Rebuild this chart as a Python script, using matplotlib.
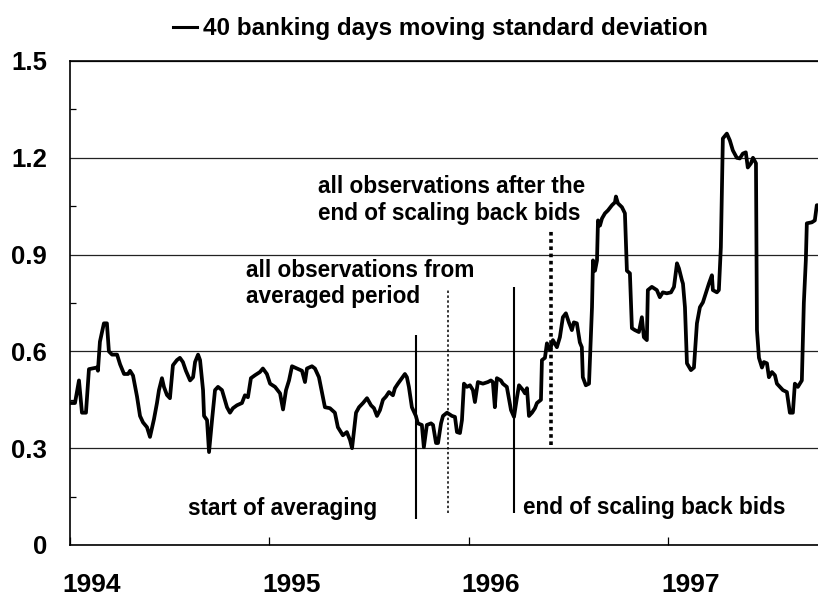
import numpy as np
import matplotlib
matplotlib.use("Agg")
import matplotlib.pyplot as plt

plt.rcParams['font.family'] = ['Liberation Sans', 'DejaVu Sans']
plt.rcParams['font.weight'] = 'bold'

# decimal years and the 40 banking days moving standard deviation
dates = np.array([
    1994.000, 1994.025, 1994.045, 1994.060, 1994.080, 1994.095, 1994.135, 1994.140,
    1994.150, 1994.170, 1994.185, 1994.195, 1994.211, 1994.236, 1994.251, 1994.271,
    1994.291, 1994.301, 1994.316, 1994.336, 1994.351, 1994.366, 1994.386, 1994.401,
    1994.421, 1994.436, 1994.446, 1994.461, 1994.471, 1994.486, 1994.501, 1994.516,
    1994.536, 1994.551, 1994.566, 1994.581, 1994.602, 1994.617, 1994.627, 1994.642,
    1994.652, 1994.667, 1994.672, 1994.687, 1994.697, 1994.712, 1994.727, 1994.742,
    1994.762, 1994.787, 1994.802, 1994.817, 1994.837, 1994.862, 1994.877, 1994.892,
    1994.907, 1994.927, 1994.952, 1994.967, 1994.987,
    1995.003, 1995.028, 1995.053, 1995.068, 1995.083, 1995.098, 1995.113, 1995.138,
    1995.163, 1995.178, 1995.188, 1995.213, 1995.228, 1995.248, 1995.268, 1995.278,
    1995.303, 1995.328, 1995.343, 1995.368, 1995.388, 1995.404, 1995.414, 1995.434,
    1995.449, 1995.469, 1995.489, 1995.509, 1995.524, 1995.539, 1995.554, 1995.569,
    1995.584, 1995.599, 1995.619, 1995.629, 1995.644, 1995.664, 1995.679, 1995.689,
    1995.699, 1995.714, 1995.734, 1995.744, 1995.764, 1995.774, 1995.789, 1995.810,
    1995.820, 1995.835, 1995.845, 1995.860, 1995.870, 1995.890, 1995.915, 1995.930,
    1995.940, 1995.955, 1995.965, 1995.975, 1995.990,
    1996.005, 1996.020, 1996.030, 1996.045, 1996.070, 1996.095, 1996.110, 1996.120,
    1996.130, 1996.140, 1996.160, 1996.170, 1996.190, 1996.211, 1996.226, 1996.241,
    1996.251, 1996.271, 1996.281, 1996.291, 1996.301, 1996.316, 1996.331, 1996.341,
    1996.361, 1996.366, 1996.381, 1996.391, 1996.406, 1996.421, 1996.441, 1996.456,
    1996.471, 1996.486, 1996.501, 1996.516, 1996.526, 1996.541, 1996.556, 1996.566,
    1996.571, 1996.586, 1996.602, 1996.617, 1996.622, 1996.632, 1996.642, 1996.647,
    1996.657, 1996.667, 1996.682, 1996.697, 1996.717, 1996.732, 1996.737, 1996.747,
    1996.767, 1996.782, 1996.792, 1996.807, 1996.817, 1996.832, 1996.852, 1996.867,
    1996.877, 1996.892, 1996.897, 1996.917, 1996.942, 1996.957, 1996.972, 1996.992,
    1997.013, 1997.028, 1997.043, 1997.053, 1997.068, 1997.073, 1997.083, 1997.093,
    1997.113, 1997.128, 1997.143, 1997.158, 1997.173, 1997.193, 1997.203, 1997.218,
    1997.223, 1997.243, 1997.253, 1997.263, 1997.273, 1997.293, 1997.308, 1997.323,
    1997.343, 1997.358, 1997.373, 1997.388, 1997.398, 1997.414, 1997.424, 1997.439,
    1997.444, 1997.454, 1997.469, 1997.479, 1997.494, 1997.504, 1997.519, 1997.534,
    1997.544, 1997.559, 1997.574, 1997.594, 1997.609, 1997.624, 1997.634, 1997.649,
    1997.669, 1997.679, 1997.689, 1997.694, 1997.719, 1997.734, 1997.744, 1997.749,
])
std40 = np.array([
    0.44, 0.44, 0.51, 0.41, 0.41, 0.545, 0.55, 0.54,
    0.63, 0.687, 0.687, 0.60, 0.59, 0.59, 0.56, 0.53,
    0.53, 0.54, 0.525, 0.46, 0.40, 0.38, 0.365, 0.335,
    0.39, 0.44, 0.48, 0.517, 0.49, 0.465, 0.455, 0.557,
    0.573, 0.58, 0.567, 0.54, 0.51, 0.52, 0.567, 0.59,
    0.573, 0.48, 0.40, 0.387, 0.288, 0.387, 0.48, 0.49,
    0.48, 0.427, 0.41, 0.424, 0.433, 0.44, 0.464, 0.458,
    0.517, 0.526, 0.536, 0.547, 0.53,
    0.50, 0.49, 0.47, 0.42, 0.48, 0.51, 0.554, 0.547,
    0.54, 0.505, 0.547, 0.554, 0.547, 0.52, 0.458, 0.427,
    0.424, 0.41, 0.365, 0.34, 0.35, 0.325, 0.30, 0.41,
    0.427, 0.44, 0.455, 0.433, 0.424, 0.40, 0.418, 0.45,
    0.46, 0.474, 0.464, 0.486, 0.50, 0.517, 0.53, 0.52,
    0.49, 0.427, 0.40, 0.377, 0.372, 0.303, 0.372, 0.377,
    0.372, 0.316, 0.316, 0.377, 0.40, 0.41, 0.40, 0.397,
    0.35, 0.347, 0.387, 0.50, 0.49,
    0.495, 0.48, 0.443, 0.505, 0.50, 0.505, 0.51, 0.505,
    0.427, 0.517, 0.51, 0.50, 0.49, 0.418, 0.397, 0.458,
    0.495, 0.48, 0.47, 0.486, 0.40, 0.41, 0.424, 0.44,
    0.45, 0.573, 0.58, 0.625, 0.604, 0.635, 0.613, 0.644,
    0.706, 0.718, 0.69, 0.666, 0.69, 0.687, 0.628, 0.613,
    0.52, 0.495, 0.50, 0.737, 0.882, 0.85, 0.882, 1.006,
    0.99, 1.012, 1.028, 1.037, 1.053, 1.062, 1.08, 1.059,
    1.047, 1.028, 0.85, 0.842, 0.672, 0.666, 0.66, 0.706,
    0.644, 0.635, 0.79, 0.80, 0.79, 0.768, 0.783, 0.78,
    0.783, 0.80, 0.873, 0.857, 0.82, 0.81, 0.737, 0.563,
    0.542, 0.55, 0.687, 0.737, 0.752, 0.79, 0.81, 0.836,
    0.79, 0.783, 0.79, 0.923, 1.26, 1.275, 1.254, 1.223,
    1.20, 1.198, 1.213, 1.217, 1.17, 1.183, 1.20, 1.183,
    0.666, 0.58, 0.55, 0.567, 0.563, 0.52, 0.536, 0.526,
    0.50, 0.49, 0.48, 0.474, 0.41, 0.41, 0.50, 0.49,
    0.51, 0.75, 0.882, 0.997, 1.0, 1.006, 1.053, 1.053,
])

years = [1994, 1995, 1996, 1997]
ylevels = [0, 0.3, 0.6, 0.9, 1.2, 1.5]
ylabels = ['0', '0.3', '0.6', '0.9', '1.2', '1.5']

# event markers: date, bottom, top
start_avg = (1995.733, 0.08, 0.65)
avg_period = (1995.897, 0.10, 0.79)
end_scaling = (1996.228, 0.10, 0.80)
after_end = (1996.411, 0.31, 0.975)

fig = plt.figure(figsize=(8.18, 5.99), dpi=100)
ax = fig.add_axes([70 / 818, 54 / 599, 748 / 818, 484 / 599])

line, = ax.plot(dates, std40, color='black', lw=2.7, solid_joinstyle='round')

ax.vlines(start_avg[0], start_avg[1], start_avg[2], color='black', lw=1.5)
ax.vlines(end_scaling[0], end_scaling[1], end_scaling[2], color='black', lw=1.5)
ax.plot([avg_period[0]] * 2, avg_period[1:], color='black', lw=1.1,
        linestyle=(0, (1.6, 1.6)))
ax.plot([after_end[0]] * 2, after_end[1:], color='black', lw=2.6,
        linestyle=(0, (1.0, 1.0)), dash_capstyle='butt')

ax.set_xlim(1994, 1997.75)
ax.set_ylim(0, 1.5)

# y axis: gridlines at major levels, small inward ticks in between
ax.set_yticks(ylevels)
ax.set_yticklabels(ylabels)
ax.set_yticks(np.arange(0.15, 1.5, 0.3), minor=True)
ax.yaxis.grid(True, which='major', color='#222222', lw=0.9)
ax.tick_params(axis='y', which='major', length=0, pad=16.5, labelsize=18.5)
ax.tick_params(axis='y', which='minor', direction='in', length=4.5, width=0.9)

# x axis: ticks at year starts, labels shifted a bit to the right
ax.set_xticks(years)
ax.set_xticklabels([''] * len(years))
ax.set_xticks([y + 0.11 for y in years], minor=True)
ax.set_xticklabels([str(y) for y in years], minor=True)
ax.tick_params(axis='x', which='major', direction='in', length=5.8, width=0.9)
ax.tick_params(axis='x', which='minor', length=0, pad=20, labelsize=19)

for side in ['left', 'top', 'bottom']:
    ax.spines[side].set_linewidth(1.2)
ax.spines['right'].set_visible(False)

fs = 16.3
ax.text(1995.243, 1.090, 'all observations after the', fontsize=fs, va='baseline')
ax.text(1995.243, 1.006, 'end of scaling back bids', fontsize=fs, va='baseline')
ax.text(1994.882, 0.832, 'all observations from', fontsize=fs, va='baseline')
ax.text(1994.882, 0.750, 'averaged period', fontsize=fs, va='baseline')
ax.text(1994.591, 0.093, 'start of averaging', fontsize=fs, va='baseline')
ax.text(1996.271, 0.097, 'end of scaling back bids', fontsize=fs, va='baseline')

leg = ax.legend([line], ['40 banking days moving standard deviation'],
                loc='center left', bbox_to_anchor=(173 / 818, 1 - 29 / 599),
                bbox_transform=fig.transFigure, frameon=False,
                handlelength=1.0, handletextpad=0.25, borderpad=0,
                borderaxespad=0, prop={'size': 17.5, 'weight': 'bold'})
leg.get_lines()[0].set_linewidth(2.2)

fig.savefig('out.png', dpi=100)
